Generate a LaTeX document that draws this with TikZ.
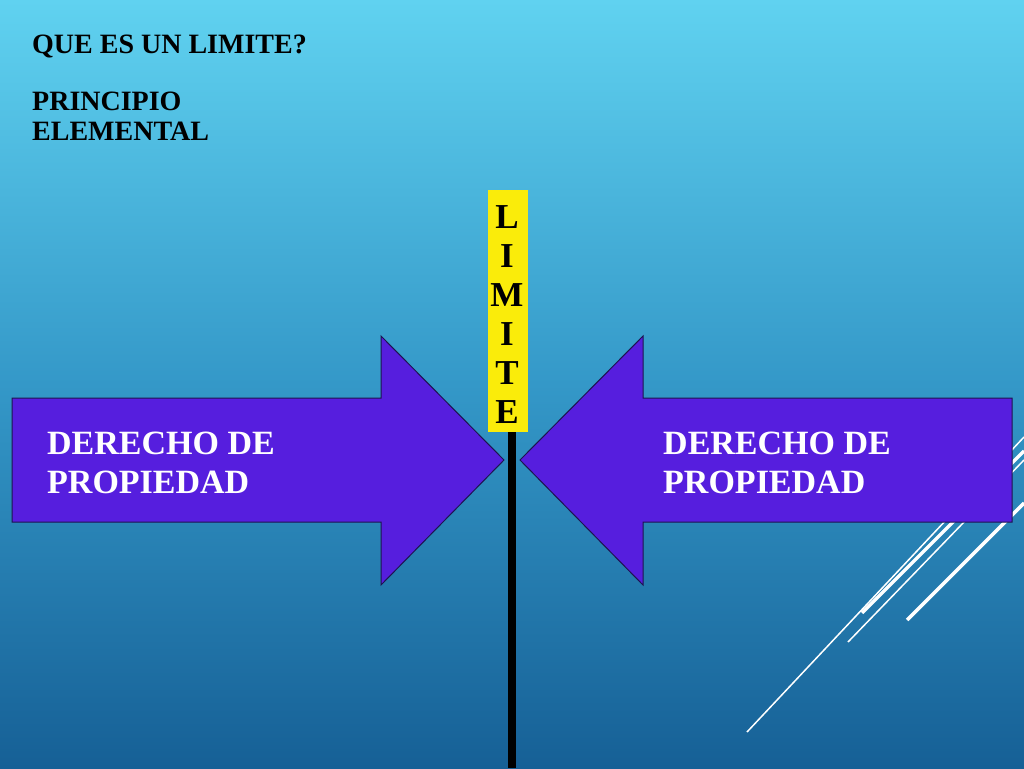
\documentclass[tikz,border=0pt]{standalone}
\usepackage{fontspec}
\setmainfont{Liberation Serif}
\definecolor{bgtop}{RGB}{96,210,240}
\definecolor{bgmid}{RGB}{52,152,200}
\definecolor{bgbot}{RGB}{22,96,150}
\definecolor{arrowfill}{RGB}{86,30,222}
\definecolor{arrowline}{RGB}{30,20,80}
\definecolor{limyellow}{RGB}{250,236,10}
\tikzset{
  toptext/.style={inner sep=0pt, anchor=base west, font=\fontsize{28}{32}\selectfont\bfseries, text=black},
  arrowtext/.style={inner sep=0pt, anchor=base west, font=\fontsize{34}{39}\selectfont\bfseries, text=white},
  limletter/.style={inner sep=0pt, anchor=base, font=\fontsize{35}{39}\selectfont\bfseries, text=black},
  bigarrow/.style={fill=arrowfill, draw=arrowline, line width=1pt, line join=miter},
  decoline/.style={draw=white},
}
\begin{document}
\begin{tikzpicture}[x=1pt,y=-1pt]
\useasboundingbox (0,0) rectangle (1024,768);
% background
\shade[top color=bgtop, bottom color=bgbot, middle color=bgmid] (0,0) rectangle (1024,768);
% decorative lines
\coordinate (l1a) at (747,732); \coordinate (l1b) at (1024,437);
\coordinate (l2a) at (862,613); \coordinate (l2b) at (1024,451);
\coordinate (l3a) at (848,642); \coordinate (l3b) at (1024,460);
\coordinate (l4a) at (907,620); \coordinate (l4b) at (1024,503);
\draw[decoline, line width=1.5pt] (l1a) -- (l1b);
\draw[decoline, line width=3.5pt] (l2a) -- (l2b);
\draw[decoline, line width=1.5pt] (l3a) -- (l3b);
\draw[decoline, line width=3.5pt] (l4a) -- (l4b);
% pole
\coordinate (poletop) at (512,432);
\coordinate (polebot) at (512,768);
\draw[black, line width=8pt] (poletop) -- (polebot);
% yellow sign
\fill[limyellow] (488,190) rectangle (528,432);
\node[limletter] (c1) at (507,228) {L};
\node[limletter] (c2) at (507,267) {I};
\node[limletter] (c3) at (507,306) {M};
\node[limletter] (c4) at (507,345) {I};
\node[limletter] (c5) at (507,384) {T};
\node[limletter] (c6) at (507,423) {E};
% arrows
\draw[bigarrow] (12,398) -- (381,398) -- (381,336) -- (504,460) -- (381,585) -- (381,522) -- (12,522) -- cycle;
\draw[bigarrow] (1012,398) -- (643,398) -- (643,336) -- (520,460) -- (643,585) -- (643,522) -- (1012,522) -- cycle;
\node[arrowtext] (la1) at (47,454) {DERECHO DE};
\node[arrowtext] (la2) at (47,493) {PROPIEDAD};
\node[arrowtext] (ra1) at (663,454) {DERECHO DE};
\node[arrowtext] (ra2) at (663,493) {PROPIEDAD};
% title texts
\node[toptext] (t1) at (32,53) {QUE ES UN LIMITE?};
\node[toptext] (t2) at (32,110) {PRINCIPIO};
\node[toptext] (t3) at (32,140) {ELEMENTAL};
\end{tikzpicture}
\end{document}
